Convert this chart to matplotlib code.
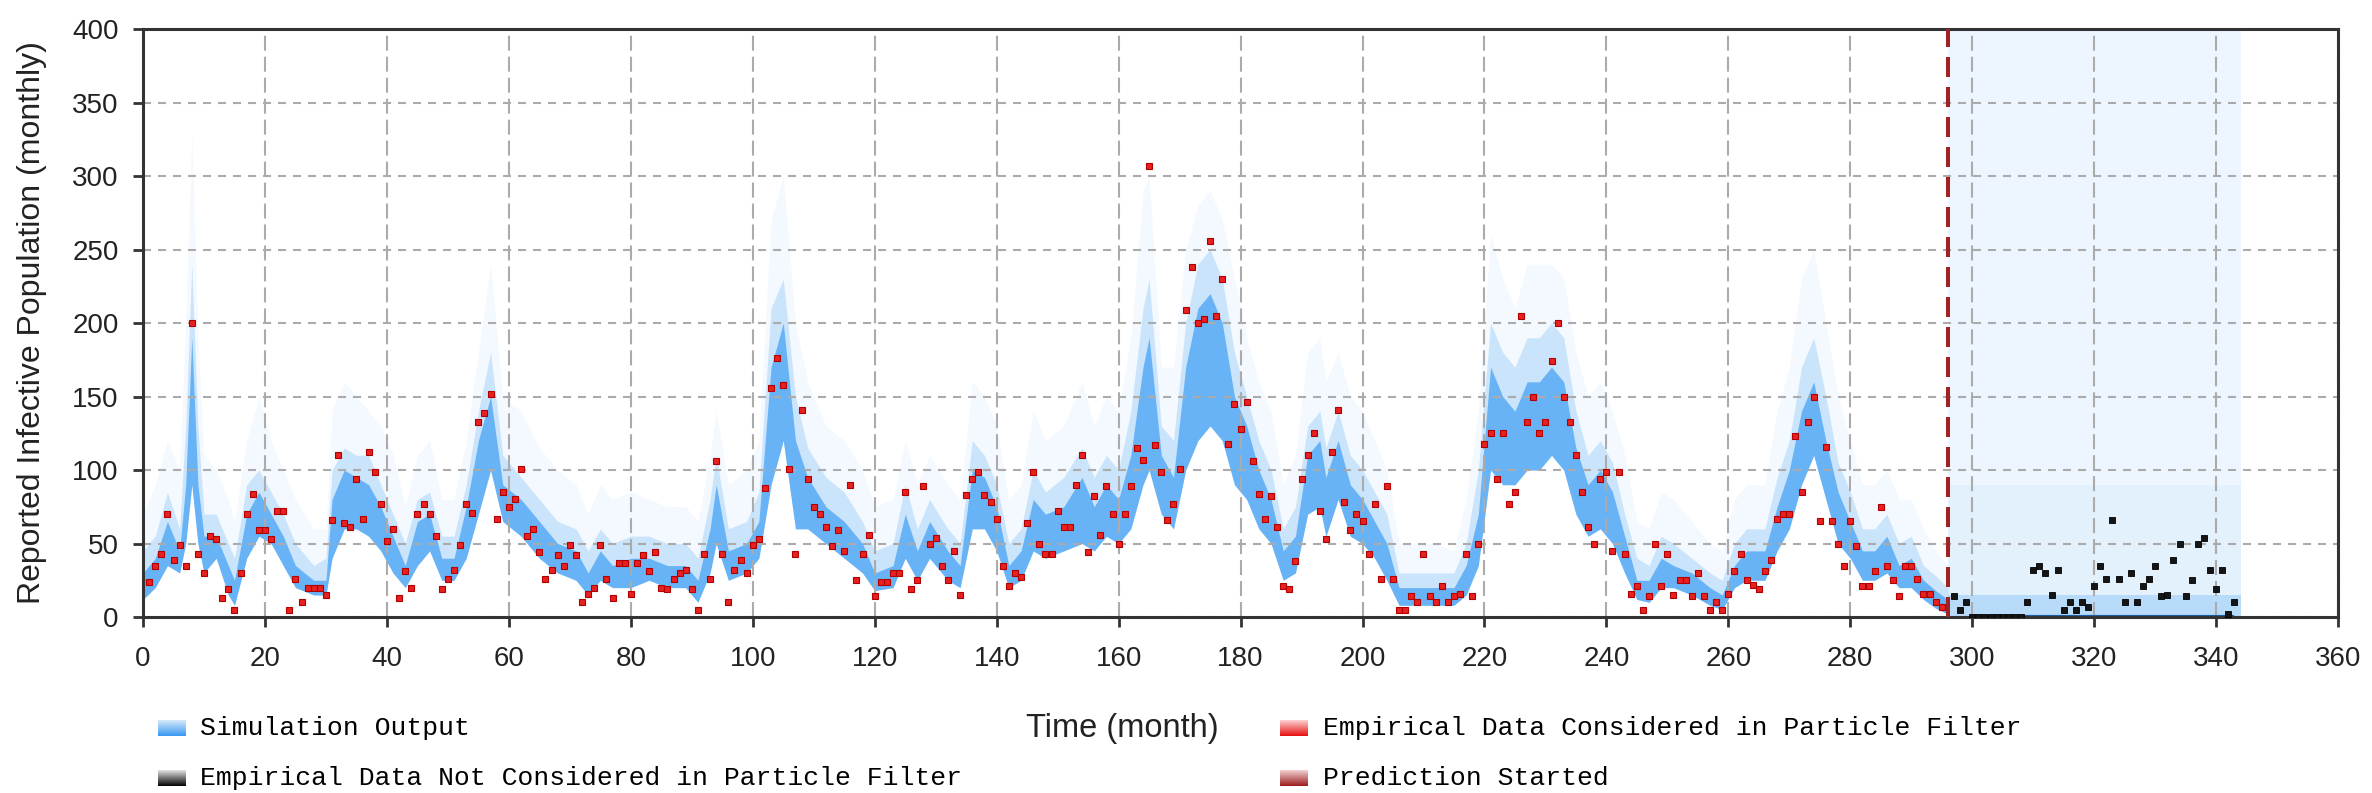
import numpy as np
import matplotlib
matplotlib.use("Agg")
import matplotlib.pyplot as plt

plt.rcParams['font.family'] = ['Liberation Sans', 'DejaVu Sans']
plt.rcParams['lines.scale_dashes'] = False

# empirical data used by the particle filter (month, reported cases)
red_months = list(range(1, 296))
red_values = [
    24, 35, 43, 70, 39, 49, 35, 200, 43, 30,
    55, 53, 13, 19, 5, 30, 70, 84, 59, 59,
    53, 72, 72, 5, 26, 10, 20, 20, 20, 15,
    66, 110, 64, 61, 94, 67, 112, 99, 77, 52,
    60, 13, 31, 20, 70, 77, 70, 55, 19, 26,
    32, 49, 77, 71, 133, 139, 152, 67, 85, 75,
    80, 101, 55, 60, 44, 26, 32, 42, 35, 49,
    42, 10, 16, 20, 49, 26, 13, 37, 37, 16,
    37, 42, 31, 44, 20, 19, 26, 30, 32, 19,
    5, 43, 26, 106, 43, 10, 32, 39, 30, 49,
    53, 88, 156, 176, 158, 101, 43, 141, 94, 75,
    70, 61, 48, 59, 45, 90, 25, 43, 56, 14,
    24, 24, 30, 30, 85, 19, 25, 89, 50, 54,
    35, 25, 45, 15, 83, 94, 99, 83, 78, 67,
    35, 21, 30, 27, 64, 99, 50, 43, 43, 72,
    61, 61, 90, 110, 44, 82, 56, 89, 70, 50,
    70, 89, 115, 107, 307, 117, 99, 66, 77, 101,
    209, 238, 200, 203, 256, 205, 230, 118, 145, 128,
    146, 106, 84, 67, 82, 61, 21, 19, 38, 94,
    110, 125, 72, 53, 112, 141, 78, 59, 70, 65,
    43, 77, 26, 89, 26, 5, 5, 14, 10, 43,
    14, 10, 21, 10, 14, 16, 43, 14, 50, 118,
    125, 94, 125, 77, 85, 205, 133, 150, 125, 133,
    174, 200, 150, 133, 110, 85, 61, 50, 94, 99,
    45, 99, 43, 16, 21, 5, 14, 50, 21, 43,
    15, 25, 25, 14, 30, 14, 5, 10, 5, 16,
    31, 43, 25, 22, 19, 31, 39, 67, 70, 70,
    123, 85, 133, 150, 65, 116, 65, 50, 35, 65,
    48, 21, 21, 31, 75, 35, 25, 14, 35, 35,
    26, 16, 16, 10, 7,
]

# empirical data not used by the filter
black_months = list(range(297, 344))
black_values = [
    14, 5, 10, 0, 0, 0, 0, 0, 0, 0,
    0, 0, 10, 32, 35, 30, 15, 32, 5, 10,
    5, 10, 7, 21, 35, 26, 66, 26, 10, 30,
    10, 21, 26, 35, 14, 15, 39, 50, 14, 25,
    50, 54, 32, 19, 32, 2, 10,
]

# simulation output envelope (month, low, dense top, medium top, faint top)
cloud_months = [0, 2, 4, 6, 7, 8, 9, 10, 12, 14, 15, 17, 19, 21, 23, 25, 28, 30, 31, 33,
                35, 37, 39, 41, 43, 45, 47, 49, 51, 53, 55, 57, 59, 62, 65, 68, 71, 73, 75, 77,
                80, 83, 86, 89, 91, 93, 94, 96, 99, 101, 103, 105, 107, 109, 112, 115, 118, 120, 123, 125,
                127, 129, 132, 134, 136, 138, 140, 142, 144, 146, 148, 151, 154, 156, 158, 160, 162, 164, 165, 167,
                169, 171, 173, 175, 177, 179, 181, 183, 185, 187, 189, 191, 193, 194, 196, 198, 200, 202, 204, 206,
                209, 212, 215, 217, 219, 221, 223, 225, 227, 229, 231, 233, 235, 237, 239, 241, 243, 245, 247, 249,
                251, 254, 257, 259, 261, 263, 266, 268, 270, 272, 274, 276, 278, 280, 282, 284, 286, 288, 290, 292,
                294, 296]
cloud_lo = [12, 20, 35, 30, 50, 90, 50, 30, 40, 15, 8, 40, 55, 50, 35, 20, 15, 15, 40, 60,
            60, 55, 45, 30, 20, 35, 45, 25, 25, 40, 70, 100, 65, 55, 40, 30, 25, 15, 25, 20,
            20, 25, 20, 20, 10, 30, 50, 25, 30, 40, 90, 120, 60, 60, 50, 40, 30, 18, 20, 40,
            25, 40, 25, 20, 60, 60, 45, 20, 25, 45, 40, 45, 50, 45, 55, 50, 60, 90, 100, 70,
            60, 100, 120, 130, 120, 90, 80, 60, 50, 25, 30, 70, 75, 55, 80, 55, 50, 40, 25, 8,
            8, 8, 8, 15, 35, 100, 90, 90, 100, 100, 110, 100, 70, 55, 60, 50, 30, 12, 10, 20,
            20, 15, 8, 5, 20, 25, 25, 45, 60, 90, 110, 80, 50, 40, 25, 25, 30, 20, 20, 12,
            6, 2]
cloud_core = [30, 40, 65, 45, 90, 190, 90, 55, 55, 35, 25, 70, 85, 70, 55, 35, 25, 25, 80, 100,
              95, 90, 75, 55, 35, 65, 70, 40, 40, 75, 120, 150, 90, 80, 65, 50, 45, 30, 45, 35,
              40, 40, 35, 35, 25, 60, 90, 45, 50, 65, 170, 200, 120, 95, 75, 65, 50, 30, 35, 70,
              45, 65, 45, 35, 100, 95, 75, 35, 45, 80, 70, 75, 95, 75, 90, 80, 110, 170, 190, 110,
              95, 170, 210, 220, 200, 150, 130, 100, 80, 45, 55, 110, 120, 95, 120, 90, 80, 65, 50, 20,
              20, 20, 20, 35, 70, 170, 150, 140, 160, 160, 170, 160, 115, 90, 100, 85, 55, 25, 25, 40,
              35, 30, 20, 15, 35, 45, 45, 75, 100, 140, 160, 120, 85, 65, 45, 45, 55, 35, 40, 25,
              18, 12]
cloud_mid = [45, 55, 85, 60, 130, 240, 130, 70, 70, 50, 40, 90, 100, 85, 70, 50, 35, 40, 100, 115,
             110, 110, 90, 70, 50, 80, 85, 55, 55, 90, 140, 180, 110, 95, 80, 65, 60, 45, 60, 50,
             55, 55, 50, 50, 40, 80, 110, 60, 65, 85, 210, 230, 150, 115, 95, 85, 65, 45, 50, 90,
             60, 80, 60, 50, 120, 110, 90, 50, 60, 100, 85, 95, 115, 95, 110, 100, 140, 210, 230, 130,
             120, 200, 240, 250, 230, 180, 150, 120, 100, 60, 75, 130, 140, 115, 140, 110, 100, 85, 70, 30,
             30, 30, 30, 50, 100, 200, 180, 170, 190, 190, 200, 190, 140, 110, 120, 105, 70, 40, 35, 55,
             50, 40, 30, 25, 50, 60, 60, 95, 120, 170, 190, 150, 105, 85, 60, 60, 70, 50, 55, 35,
             28, 20]
cloud_halo = [70, 90, 120, 100, 200, 330, 190, 110, 100, 80, 65, 120, 150, 120, 100, 80, 60, 60, 140, 160,
              150, 140, 130, 110, 75, 110, 120, 80, 80, 120, 180, 240, 150, 140, 115, 100, 90, 70, 90, 80,
              85, 80, 75, 75, 65, 110, 140, 90, 100, 120, 270, 300, 200, 160, 130, 120, 100, 75, 80, 120,
              90, 110, 90, 80, 160, 150, 130, 80, 90, 140, 120, 130, 160, 130, 150, 140, 190, 290, 300, 170,
              170, 250, 280, 290, 270, 230, 190, 160, 140, 90, 110, 180, 190, 160, 180, 150, 140, 120, 100, 50,
              50, 50, 45, 80, 140, 260, 230, 210, 240, 240, 240, 230, 180, 150, 160, 140, 110, 65, 60, 85,
              80, 65, 50, 45, 80, 90, 90, 140, 170, 230, 250, 200, 150, 120, 90, 90, 100, 80, 80, 60,
              45, 35]

# prediction window
pred_start = 296
pred_end = 344
pred_zero_start = 300
pred_top = 400
pred_dense_top = 15
pred_mid_top = 90

fig = plt.figure(figsize=(23.72, 7.93), dpi=100)
ax = fig.add_axes([0.0603, 0.2219, 0.9254, 0.7415])

blue = '#3a9cf4'
ax.fill_between(cloud_months, cloud_lo, cloud_halo, color=blue, alpha=0.06, lw=0, zorder=1)
ax.fill_between(cloud_months, cloud_lo, cloud_mid, color=blue, alpha=0.22, lw=0, zorder=1)
ax.fill_between(cloud_months, cloud_lo, cloud_core, color=blue, alpha=0.68, lw=0, zorder=1)

pm = [pred_start, pred_end]
ax.fill_between(pm, 0, pred_top, color=blue, alpha=0.09, lw=0, zorder=1)
ax.fill_between(pm, 0, pred_mid_top, color=blue, alpha=0.05, lw=0, zorder=1)
ax.fill_between(pm, 0, pred_dense_top, color=blue, alpha=0.25, lw=0, zorder=1)
ax.hlines(0, pred_zero_start, pred_end - 1, color='#1c5fa8', lw=3, zorder=2)

ax.axvline(pred_start, color='#a02222', lw=2.9, dashes=(14.4, 7.2), zorder=3)

ax.plot(red_months, red_values, 's', ms=4.6, mfc='#e82020', mec='#b00000', mew=0.8,
        ls='none', zorder=4)
ax.plot(black_months, black_values, 's', ms=4.6, mfc='#151515', mec='#000000', mew=0.6,
        ls='none', zorder=4)

ax.set_xlim(0, 360)
ax.set_ylim(0, 400)
ax.set_xticks(range(0, 361, 20))
ax.set_yticks(range(0, 401, 50))
ax.set_axisbelow('line')
ax.grid(True, color='#ababab', lw=1.5)
for gl in ax.xaxis.get_gridlines():
    gl.set_dashes((10.8, 4.3))
for gl in ax.yaxis.get_gridlines():
    gl.set_dashes((5.8, 5.0))

for s in ax.spines.values():
    s.set_linewidth(2.2)
    s.set_color('#333333')
ax.tick_params(axis='both', labelsize=20, color='#333333', width=2, length=7.5,
               labelcolor='#222222')
ax.tick_params(axis='x', pad=13)
ax.tick_params(axis='y', pad=10)

ax.set_xlabel('Time (month)', fontsize=23.5, color='#222222')
ax.xaxis.set_label_coords(0.446, -0.189)
ax.xaxis.label.set_va('center')
ax.set_ylabel('Reported Infective Population (monthly)', fontsize=23, color='#222222')
ax.yaxis.set_label_coords(-0.0506, 0.5)
ax.yaxis.label.set_va('center')

# legend: gradient swatches with monospace labels
legend_items = [
    ('Simulation Output', ['#d6e9fb', '#3a98f0'], 0.0666, 0.0843, 0.082),
    ('Empirical Data Considered in Particle Filter', ['#fbd0d0', '#e81010'], 0.5396, 0.5578, 0.082),
    ('Empirical Data Not Considered in Particle Filter', ['#e0e0e0', '#050505'], 0.0666, 0.0843, 0.019),
    ('Prediction Started', ['#f2d0d0', '#9c1e1e'], 0.5396, 0.5578, 0.019),
]
grad = np.linspace(0, 1, 32).reshape(-1, 1)
for label, cols, sx, tx, ty in legend_items:
    sax = fig.add_axes([sx, ty - 0.010, 0.0118, 0.020])
    cmap = matplotlib.colors.LinearSegmentedColormap.from_list('g', cols)
    sax.imshow(grad, aspect='auto', cmap=cmap, origin='upper')
    sax.axis('off')
    fig.text(tx, ty, label, fontsize=19, family=['Liberation Mono', 'DejaVu Sans Mono'],
             va='center', ha='left', color='#000000')

fig.savefig('out.png', dpi=100)
